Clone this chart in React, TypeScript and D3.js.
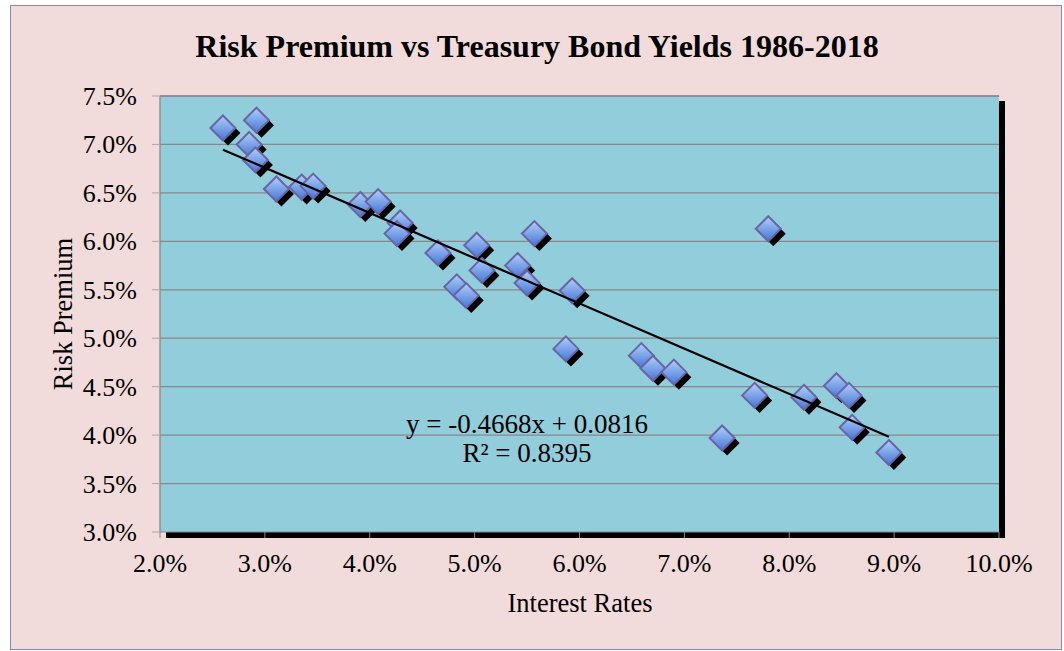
import React from "react";
import { scaleLinear, line, extent } from "d3";

// interest rate (%) vs risk premium (%)
const rates = [2.60, 2.92, 2.85, 2.91, 3.11, 3.35, 3.46, 3.91, 4.08, 4.29, 4.26, 4.65, 5.02, 5.07, 4.83, 4.92,
  5.41, 5.50, 5.57, 5.93, 5.87, 6.59, 6.70, 6.90, 7.36, 7.67, 7.80, 8.14, 8.45, 8.57, 8.60, 8.95];
const premiums = [7.17, 7.25, 7.00, 6.84, 6.54, 6.56, 6.57, 6.38, 6.41, 6.19, 6.08, 5.88, 5.96, 5.70, 5.53, 5.44,
  5.75, 5.57, 6.08, 5.49, 4.89, 4.82, 4.69, 4.65, 3.97, 4.41, 6.13, 4.39, 4.51, 4.41, 4.08, 3.82];
const xTicks = [2, 3, 4, 5, 6, 7, 8, 9, 10];
const yTicks = [3, 3.5, 4, 4.5, 5, 5.5, 6, 6.5, 7, 7.5];
const slope = -0.4668;
const intercept = 0.0816;
const rSquared = 0.8395;

const W = 1064, H = 651;
const m = { left: 160, right: 999, top: 96, bottom: 532 };
const font = "'Liberation Serif', 'Times New Roman', serif";

export default function App() {
  const x = scaleLinear().domain([2, 10]).range([m.left, m.right]);
  const y = scaleLinear().domain([3, 7.5]).range([m.bottom, m.top]);
  const [x0, x1] = extent(rates) as [number, number];
  const trend = [x0, x1].map((r) => [r, (slope * r / 100 + intercept) * 100]);
  const trendPath = line<number[]>().x((d) => x(d[0])).y((d) => y(d[1]))(trend);
  const s = 12.5;
  const diamond = `M0,${-s}L${s},0L0,${s}L${-s},0Z`;

  return (
    <svg width={W} height={H} style={{ position: "absolute", left: 0, top: 0, background: "#fff" }}>
      <defs>
        <linearGradient id="dg" x1="0" y1="0" x2="0" y2="1">
          <stop offset="0%" stopColor="#b0cffa" />
          <stop offset="100%" stopColor="#4677d6" />
        </linearGradient>
      </defs>
      <rect x={10.5} y={5.5} width={1051} height={644} fill="#f2dcdb" stroke="#8a86b8" strokeWidth={1} />
      <text x={537} y={57} textAnchor="middle" fontFamily={font} fontWeight="bold" fontSize={32}>
        Risk Premium vs Treasury Bond Yields 1986-2018
      </text>

      {/* plot area + shadow */}
      <rect x={m.left + 6} y={m.top + 5} width={m.right - m.left} height={m.bottom - m.top + 1} fill="#000" />
      <rect x={m.left} y={m.top} width={m.right - m.left} height={m.bottom - m.top} fill="#92cddc" />
      {yTicks.slice(1).map((t) => (
        <line key={t} x1={m.left} x2={m.right} y1={y(t)} y2={y(t)} stroke="#888" strokeWidth={1.3} />
      ))}
      <line x1={m.left} x2={m.right} y1={m.top} y2={m.top} stroke="#9a7a98" strokeWidth={1} />
      <line x1={m.left} x2={m.left} y1={m.top} y2={m.bottom} stroke="#888" strokeWidth={1.3} />
      <line x1={m.left} x2={m.right} y1={m.bottom} y2={m.bottom} stroke="#888" strokeWidth={1} />

      {/* y axis */}
      {yTicks.map((t) => (
        <g key={t}>
          <line x1={m.left - 8} x2={m.left} y1={y(t)} y2={y(t)} stroke="#aaa" strokeWidth={1} />
          <text x={137} y={y(t) + 9} textAnchor="end" fontFamily={font} fontSize={26}>{t.toFixed(1)}%</text>
        </g>
      ))}
      {/* x axis */}
      {xTicks.map((t) => (
        <g key={t}>
          <line x1={x(t)} x2={x(t)} y1={m.bottom} y2={m.bottom + 6} stroke="#888" strokeWidth={1} />
          <text x={x(t)} y={572} textAnchor="middle" fontFamily={font} fontSize={26}>{t.toFixed(1)}%</text>
        </g>
      ))}
      <text x={580} y={612} textAnchor="middle" fontFamily={font} fontSize={26.5}>Interest Rates</text>
      <text transform={`translate(72,314) rotate(-90)`} textAnchor="middle" fontFamily={font} fontSize={26.5}>Risk Premium</text>

      {/* points */}
      {rates.map((r, i) => (
        <g key={i} transform={`translate(${x(r)},${y(premiums[i])})`}>
          <path d={diamond} transform="translate(5,5)" fill="#000" />
          <path d={diamond} fill="url(#dg)" stroke="#6a64a4" strokeWidth={2} />
        </g>
      ))}
      <path d={trendPath ?? ""} fill="none" stroke="#000" strokeWidth={2.2} />

      <text x={527} y={433} textAnchor="middle" fontFamily={font} fontSize={27}>
        y = {slope}x + {intercept}
      </text>
      <text x={527} y={462} textAnchor="middle" fontFamily={font} fontSize={27}>R² = {rSquared}</text>
    </svg>
  );
}
